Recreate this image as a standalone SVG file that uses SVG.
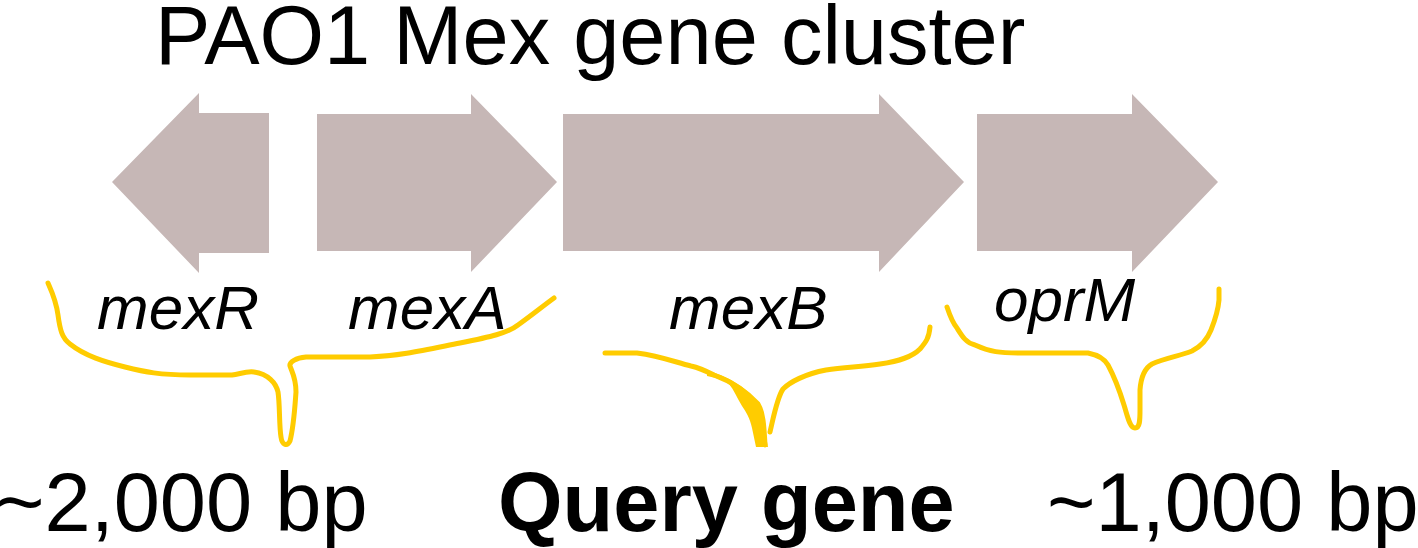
<svg xmlns="http://www.w3.org/2000/svg" width="1418" height="548" viewBox="0 0 1418 548">
<style>
.gene{fill:#C6B7B6;}
.lbl{font-family:"Liberation Sans",Arial,sans-serif;font-style:italic;font-size:62px;fill:#000;}
.big{font-family:"Liberation Sans",Arial,sans-serif;font-size:83px;fill:#000;}
.brace{fill:none;stroke:#FFCC00;stroke-width:5;stroke-linecap:round;stroke-linejoin:round;}
.blob{fill:#FFCC00;}
</style>
<rect width="1418" height="548" fill="#fff"/>
<text id="title" class="big" x="155" y="64" font-size="81">PAO1 Mex gene cluster</text>
<g id="mexR">
<polygon class="gene" points="112,182 199,93 199,113 269,113 269,253 199,253 199,273"/>
<text class="lbl" x="97" y="329">mexR</text>
</g>
<g id="mexA">
<polygon class="gene" points="317,114 471,114 471,94 557,182 471,272 471,251 317,251"/>
<text class="lbl" x="348" y="329">mexA</text>
</g>
<g id="mexB">
<polygon class="gene" points="563,114 879,114 879,94 964,182 879,272 879,251 563,251"/>
<text class="lbl" x="669" y="329">mexB</text>
</g>
<g id="oprM">
<polygon class="gene" points="977,114 1132,114 1132,94 1218,182 1132,272 1132,251 977,251"/>
<text class="lbl" x="994" y="321">oprM</text>
</g>
<g id="connectors">
<path class="brace" d="M48,283 C52,292 56,300 58,315 C60,330 62,338 70,344 C85,356 105,362 125,367 C145,372 160,375 190,375 L232,375 C240,374 246,371 254,372 C268,374 276,383 278,392 C280,405 279,425 281,437 C282,445 287,447 290,441 C294,425 295,405 296,392 C296,378 292,372 290,366 C289,362 296,358 306,357 L370,357 C400,356 425,350 460,343 C490,337 508,333 518,325 C532,315 543,306 554,298"/>
<path class="brace" d="M605,353 L637,353 C660,356 675,362 691,366 C700,368 708,372 714,375 C735,383 750,395 758,404 C763,412 764,425 765,445 M770,432 C774,415 777,398 783,389 C790,382 805,374 826,370 C845,367 860,367 880,364 C900,361 912,357 920,349 C926,342 929,338 930,327"/>
<path class="blob" d="M707,371 C718,373 735,380 748,392 C758,402 763,412 764,425 L768,447 L756,447 L752,428 C750,418 746,412 742,406 C737,398 734,390 729,384 C724,380 716,378 707,376 Z"/>
<path class="brace" d="M947,307 C950,316 952,322 957,328 C962,336 966,343 975,345 C990,352 1000,353 1020,353 L1088,353 C1098,355 1104,358 1108,365 C1115,378 1120,392 1124,405 C1128,418 1130,428 1135,428 C1140,428 1140,420 1140,410 L1140,390 C1141,376 1145,368 1152,364 C1165,358 1180,356 1192,351 C1202,346 1207,340 1211,330 C1215,320 1218,312 1219,300 L1219,289"/>
</g>
<text id="left-label" class="big" x="-4" y="531">~2,000 bp</text>
<text id="query-label" class="big" x="498" y="531" font-weight="bold">Query gene</text>
<text id="right-label" class="big" x="1047" y="531">~1,000 bp</text>
</svg>
